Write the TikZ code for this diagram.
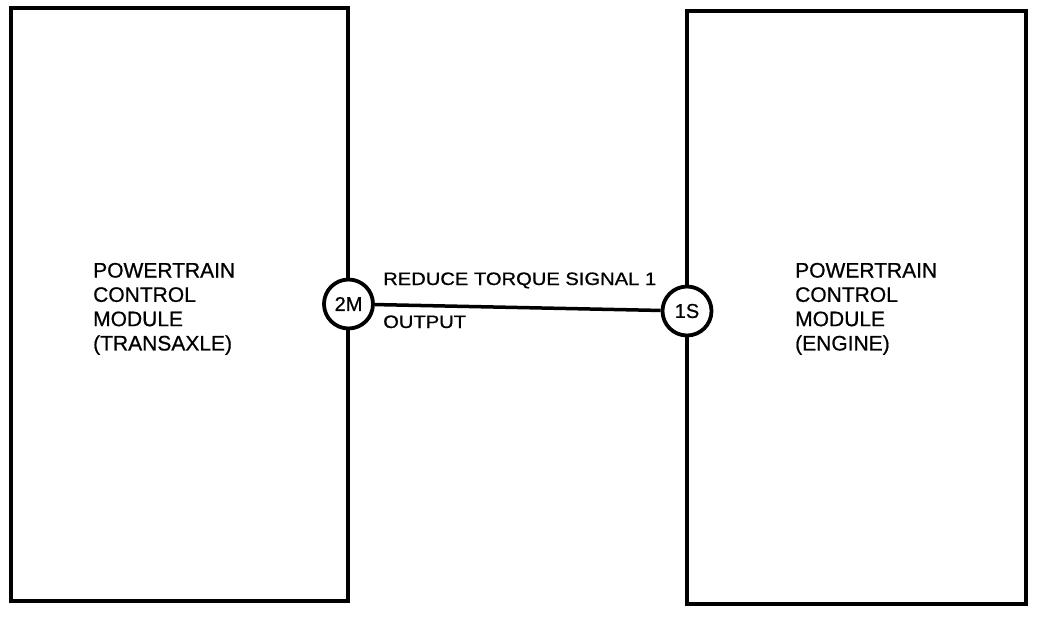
\documentclass[tikz,border=0pt]{standalone}
\usepackage{fontspec}
\setmainfont{Liberation Sans}[UprightFeatures={FakeBold=0.7}]
\begin{document}
\begin{tikzpicture}[x=1pt,y=-1pt,
  modbox/.style={draw, line width=4pt, inner sep=0pt},
  pin/.style={circle, draw, fill=white, line width=3.8pt, minimum size=49pt, inner sep=0pt,
    font=\fontsize{20}{20}\selectfont},
  boxtext/.style={anchor=north west, inner sep=0pt, align=left,
    font=\fontsize{21}{24.3}\selectfont},
  sigtext/.style={anchor=base west, inner sep=0pt, xscale=1.12,
    font=\fontsize{18}{18}\selectfont}]
\useasboundingbox (0,0) rectangle (1040,616);
\node[modbox, minimum width=337pt, minimum height=593pt] (tcm) at (179,304.5) {};
\node[modbox, minimum width=339pt, minimum height=593.5pt] (ecm) at (856,307.25) {};
\node[boxtext] (tcmlabel) at (93,262.7) {POWERTRAIN\\CONTROL\\MODULE\\(TRANSAXLE)};
\node[boxtext] (ecmlabel) at (795,262.7) {POWERTRAIN\\CONTROL\\MODULE\\(ENGINE)};
\coordinate (p2m) at (348.5,304);
\coordinate (p1s) at (687,311);
\node[pin] (c2m) at (p2m) {2M};
\node[pin] (c1s) at (p1s) {1S};
\draw[line width=3.5pt] (c2m) -- (c1s);
\node[sigtext] (sig) at (383,285) {REDUCE TORQUE SIGNAL 1};
\node[sigtext] (out) at (383,328) {OUTPUT};
\end{tikzpicture}
\end{document}
